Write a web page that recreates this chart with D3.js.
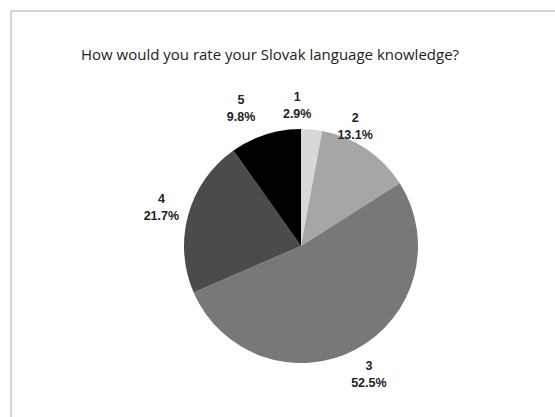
<!DOCTYPE html>
<html>
<head>
<meta charset="utf-8">
<script src="https://cdn.jsdelivr.net/npm/d3@7"></script>
<style>
  html, body { margin: 0; padding: 0; background: #fff; }
  svg { display: block; }
</style>
</head>
<body>
<svg id="chart" width="555" height="417"></svg>
<script>
// Survey answers: self-rated Slovak language knowledge (share of respondents, %)
const categories = ["1", "2", "3", "4", "5"];
const shares = [2.9, 13.1, 52.5, 21.7, 9.8];
const sliceColors = ["#d8d8d8", "#a6a6a6", "#787878", "#4b4b4b", "#000000"];
const title = "How would you rate your Slovak language knowledge?";

// Small per-label nudges so the outside labels clear each other
const labelNudge = [[-17, 3], [-27, 0], [0, 0], [0, 0], [-16, 0]];

const width = 555, height = 417;
const cx = 301, cy = 246, radius = 117, labelRadius = 145;

const svg = d3.select("#chart");

// Panel frame (top and left edges visible)
svg.append("path")
  .attr("d", `M11,${height} V11 H${width}`)
  .attr("fill", "none")
  .attr("stroke", "#d4d4d4")
  .attr("stroke-width", 2);

svg.append("text")
  .attr("x", 270)
  .attr("y", 60)
  .attr("text-anchor", "middle")
  .attr("font-family", "'Open Sans', sans-serif")
  .attr("font-size", 15)
  .attr("font-weight", 500)
  .attr("fill", "#222")
  .text(title);

const data = categories.map((c, i) => ({ cat: c, value: shares[i], i }));

const pie = d3.pie().value(d => d.value).sort(null);
const arcs = pie(data);

const arc = d3.arc().innerRadius(0).outerRadius(radius);
const labelArc = d3.arc().innerRadius(labelRadius).outerRadius(labelRadius);

const g = svg.append("g").attr("transform", `translate(${cx},${cy})`);

g.selectAll("path.slice")
  .data(arcs)
  .join("path")
  .attr("class", "slice")
  .attr("d", arc)
  .attr("fill", d => sliceColors[d.data.i]);

const labels = g.selectAll("g.label")
  .data(arcs)
  .join("g")
  .attr("class", "label")
  .attr("transform", d => {
    const [x, y] = labelArc.centroid(d);
    const [nx, ny] = labelNudge[d.data.i];
    return `translate(${x + nx},${y + ny})`;
  })
  .attr("font-family", "'Liberation Sans', Arial, sans-serif")
  .attr("font-weight", "bold")
  .attr("font-size", 12.5)
  .attr("fill", "#222")
  .attr("text-anchor", "middle");

labels.append("text")
  .attr("y", -4)
  .text(d => d.data.cat);

labels.append("text")
  .attr("y", 13)
  .text(d => d3.format(".1f")(d.data.value) + "%");
</script>
</body>
</html>
